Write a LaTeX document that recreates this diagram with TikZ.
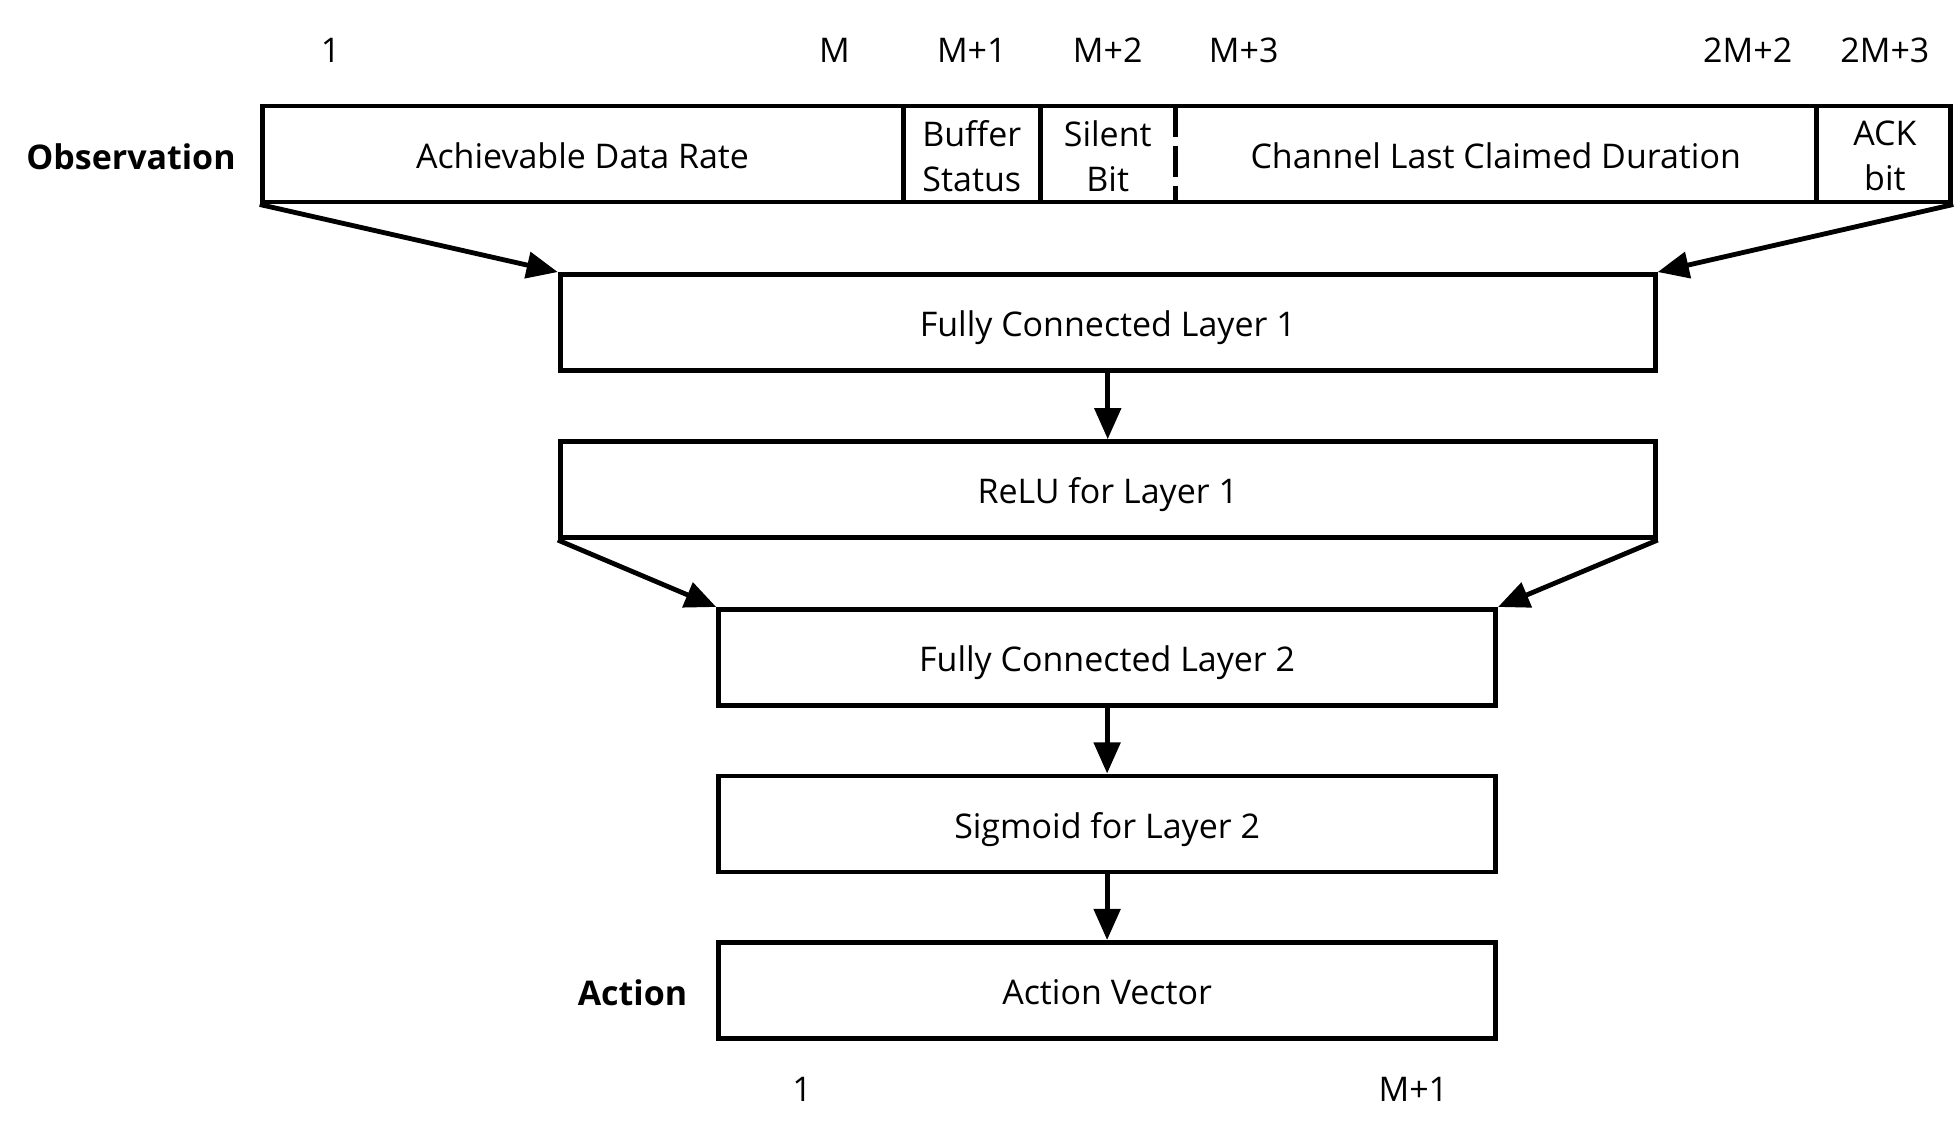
\documentclass[tikz,border=0pt]{standalone}
\usepackage{fontspec}
\setmainfont{Open Sans}
\usetikzlibrary{arrows.meta}
\tikzset{
  layer/.style={draw, line width=2.2pt, minimum height=1.54cm, inner sep=0pt, text height=13pt, text depth=0pt},
  cell/.style={align=center, inner sep=0pt},
  idx/.style={inner sep=0pt},
  tag/.style={inner sep=0pt, font=\fontsize{15.5}{20.5}\selectfont\bfseries},
  arr/.style={line width=2.2pt, -{Triangle[length=0.5cm, width=0.42cm]}},
}
\begin{document}
\begin{tikzpicture}[x=0.02cm, y=-0.02cm, font=\fontsize{15.5}{20.5}\selectfont]
  \useasboundingbox (0, 0) rectangle (1568, 910.7);
  % indices of the observation
  \node[idx] (o1) at (265, 40) {1};
  \node[idx] (oM) at (669, 40) {M};
  \node[idx] (oM1) at (779, 40) {M+1};
  \node[idx] (oM2) at (888, 40) {M+2};
  \node[idx] (oM3) at (997, 40) {M+3};
  \node[idx] (o2M2) at (1401, 40) {2M+2};
  \node[idx] (o2M3) at (1511, 40) {2M+3};
  % observation vector
  \node[layer, minimum width=27.08cm] (obs) at (887, 123.5) {};
  \draw[line width=2.2pt] (724, 85) -- (724, 162);
  \draw[line width=2.2pt] (834, 85) -- (834, 162);
  \draw[line width=2.2pt, dash pattern=on 0.5cm off 0.14cm] (942, 85) -- (942, 162);
  \draw[line width=2.2pt] (1456, 85) -- (1456, 162);
  \node[cell] (rate) at (467, 125) {Achievable Data Rate};
  \node[cell] (buf) at (779, 125) {Buffer\\Status};
  \node[cell] (silent) at (888, 125) {Silent\\Bit};
  \node[cell] (dur) at (1199, 125) {Channel Last Claimed Duration};
  \node[cell] (ack) at (1511, 125) {ACK\\bit};
  \node[tag] (obslabel) at (105, 126) {Observation};
  % network
  \node[layer, minimum width=17.56cm] (fc1) at (888, 258.5) {Fully Connected Layer 1};
  \node[layer, minimum width=17.56cm] (relu) at (888, 392.5) {ReLU for Layer 1};
  \node[layer, minimum width=12.46cm] (fc2) at (887.5, 527) {Fully Connected Layer 2};
  \node[layer, minimum width=12.46cm] (sig) at (887.5, 660.5) {Sigmoid for Layer 2};
  \node[layer, minimum width=12.46cm] (act) at (887.5, 794) {Action Vector};
  \node[tag] (actlabel) at (507, 796) {Action};
  % indices of the action
  \node[idx] (a1) at (643, 873) {1};
  \node[idx] (aM1) at (1133, 873) {M+1};
  % arrows
  \draw[arr] (obs.south west) -- (fc1.north west);
  \draw[arr] (obs.south east) -- (fc1.north east);
  \draw[arr] (fc1.south) -- (relu.north);
  \draw[arr] (relu.south west) -- (fc2.north west);
  \draw[arr] (relu.south east) -- (fc2.north east);
  \draw[arr] (fc2.south) -- (sig.north);
  \draw[arr] (sig.south) -- (act.north);
\end{tikzpicture}
\end{document}
